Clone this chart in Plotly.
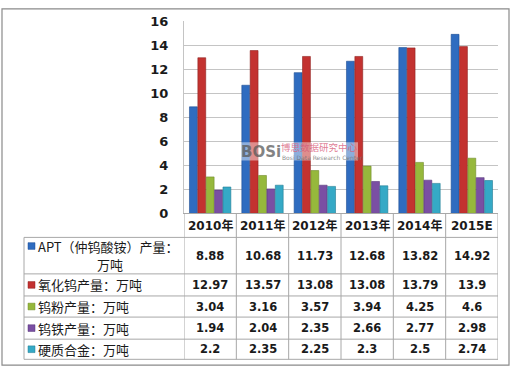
import plotly.graph_objects as go

categories = ["2010年", "2011年", "2012年", "2013年", "2014年", "2015E"]
series_names = ["APT（仲钨酸铵）产量：<br>万吨", "氧化钨产量：万吨", "钨粉产量：万吨", "钨铁产量：万吨", "硬质合金：万吨"]
apt = [8.88, 10.68, 11.73, 12.68, 13.82, 14.92]
wo3 = [12.97, 13.57, 13.08, 13.08, 13.79, 13.9]
wpow = [3.04, 3.16, 3.57, 3.94, 4.25, 4.6]
wfe = [1.94, 2.04, 2.35, 2.66, 2.77, 2.98]
hard = [2.2, 2.35, 2.25, 2.3, 2.5, 2.74]
value_labels = [
    ["8.88", "10.68", "11.73", "12.68", "13.82", "14.92"],
    ["12.97", "13.57", "13.08", "13.08", "13.79", "13.9"],
    ["3.04", "3.16", "3.57", "3.94", "4.25", "4.6"],
    ["1.94", "2.04", "2.35", "2.66", "2.77", "2.98"],
    ["2.2", "2.35", "2.25", "2.3", "2.5", "2.74"],
]
y_ticks = [0, 2, 4, 6, 8, 10, 12, 14, 16]

all_series = [apt, wo3, wpow, wfe, hard]
colors = ["#2f6cc0", "#c33230", "#96b83c", "#7a4fa3", "#35a9c6"]
edge = ["#1f4f94", "#8e2220", "#6f8a28", "#573579", "#227c93"]

W, H = 514, 375
def py(y):
    return 1 - y / H
def px(x):
    return x / W

fig = go.Figure()
xs = list(range(len(categories)))
for vals, c, e, name in zip(all_series, colors, edge, series_names):
    fig.add_trace(go.Bar(x=xs, y=vals, name=name, marker=dict(color=c, line=dict(color=e, width=0.6)),
                         showlegend=False, hoverinfo="skip"))

shapes = []
annotations = []
line_c = "#a8a8a8"
# table horizontal lines
row_edges = [240, 278, 301, 323, 346, 367]
for yy in row_edges:
    shapes.append(dict(type="line", xref="paper", yref="paper", x0=px(24), x1=px(498), y0=py(yy), y1=py(yy),
                       line=dict(color=line_c, width=1)))
# table vertical lines
shapes.append(dict(type="line", xref="paper", yref="paper", x0=px(24), x1=px(24), y0=py(240), y1=py(367),
                   line=dict(color=line_c, width=1)))
for i in range(len(categories) + 1):
    shapes.append(dict(type="line", xref="x", yref="paper", x0=i - 0.5, x1=i - 0.5, y0=py(215), y1=py(367),
                       line=dict(color=line_c, width=1)))
# outer frame
shapes.append(dict(type="rect", xref="paper", yref="paper", x0=px(2), x1=px(509), y0=py(373), y1=py(2),
                   line=dict(color="#8a8a8a", width=1.2), fillcolor="rgba(0,0,0,0)"))

# category labels
for i, c in enumerate(categories):
    annotations.append(dict(x=i, y=py(228), xref="x", yref="paper", text=c, showarrow=False,
                            font=dict(family="DejaVu Sans, Noto Sans CJK SC", size=12, color="#1a1a1a", weight="bold"),
                            xanchor="center", yanchor="middle"))
# row labels and values
row_centers = [259, 289.5, 312, 334.5, 356.5]
for r, (name, c) in enumerate(zip(series_names, colors)):
    yc = row_centers[r]
    ky = 249 if r == 0 else yc
    shapes.append(dict(type="rect", xref="paper", yref="paper", x0=px(28), x1=px(35), y0=py(ky + 3.5), y1=py(ky - 3.5),
                       line=dict(color=edge[r], width=0.5), fillcolor=c))
    if r == 0:
        annotations.append(dict(x=px(36), y=py(249), xref="paper", yref="paper", text="APT（仲钨酸铵）产量：",
                                showarrow=False, xanchor="left", yanchor="middle",
                                font=dict(family="Noto Sans CJK SC", size=13, color="#1a1a1a")))
        annotations.append(dict(x=px(110), y=py(268), xref="paper", yref="paper", text="万吨",
                                showarrow=False, xanchor="center", yanchor="middle",
                                font=dict(family="Noto Sans CJK SC", size=13, color="#1a1a1a")))
    else:
        annotations.append(dict(x=px(36), y=py(yc), xref="paper", yref="paper", text=name,
                                showarrow=False, xanchor="left", yanchor="middle",
                                font=dict(family="Noto Sans CJK SC", size=13, color="#1a1a1a")))
    for i, v in enumerate(value_labels[r]):
        annotations.append(dict(x=i, y=py(yc), xref="x", yref="paper", text=v, showarrow=False,
                                xanchor="center", yanchor="middle",
                                font=dict(family="DejaVu Sans", size=11.5, color="#1a1a1a", weight="bold")))

# watermark
shapes.append(dict(type="rect", xref="paper", yref="paper", x0=px(239), x1=px(358), y0=py(160), y1=py(141),
                   line=dict(width=0), fillcolor="rgba(255,255,255,0.45)", layer="above"))
annotations.append(dict(x=px(239), y=py(151), xref="paper", yref="paper", text="BOSi", showarrow=False,
                        xanchor="left", yanchor="middle",
                        font=dict(family="DejaVu Sans", size=15, color="rgba(90,90,90,0.75)", weight="bold")))
annotations.append(dict(x=px(279), y=py(145.5), xref="paper", yref="paper", text="博思数据研究中心", showarrow=False,
                        xanchor="left", yanchor="middle",
                        font=dict(family="Noto Sans CJK SC", size=9.5, color="rgba(215,90,120,0.8)")))
annotations.append(dict(x=px(280), y=py(156.5), xref="paper", yref="paper", text="Bosi Data Research Center",
                        showarrow=False, xanchor="left", yanchor="middle",
                        font=dict(family="DejaVu Sans", size=6, color="rgba(110,110,110,0.8)")))

fig.update_layout(
    width=W, height=H, margin=dict(l=0, r=0, t=0, b=0),
    paper_bgcolor="white", plot_bgcolor="white",
    barmode="group", bargap=0.2, bargroupgap=0.06,
    shapes=shapes, annotations=annotations,
    xaxis=dict(domain=[px(184), px(498)], range=[-0.5, len(categories) - 0.5], showticklabels=False,
               showgrid=False, zeroline=False, showline=True, linecolor=line_c, linewidth=1, ticks=""),
    yaxis=dict(domain=[py(215), py(15)], range=[0, 16], tickvals=y_ticks, showgrid=True,
               gridcolor="#c4c4c4", gridwidth=1, zeroline=False, showline=True, linecolor="#c4c4c4",
               ticks="", ticklabelstandoff=12,
               tickfont=dict(family="DejaVu Sans", size=13, color="#1a1a1a", weight="bold")),
)
fig.write_html("out.html", config={"displayModeBar": False},
               post_script="document.body.style.margin='0';document.body.style.overflow='hidden';")
